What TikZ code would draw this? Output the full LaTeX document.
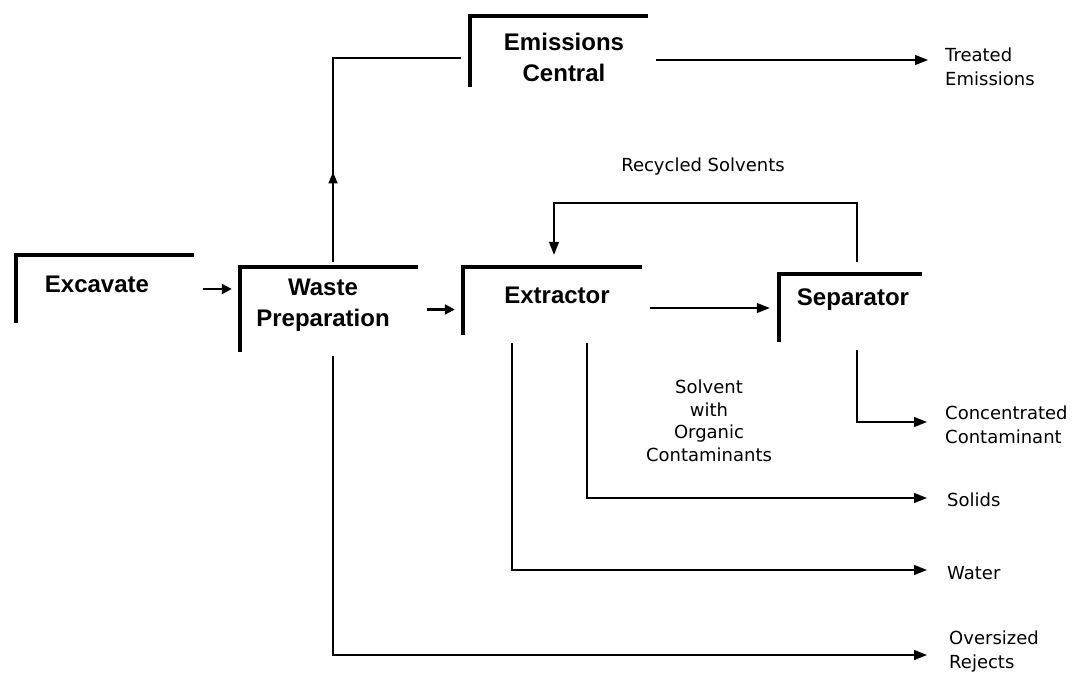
\documentclass[tikz,border=0pt]{standalone}
\usepackage{fontspec}
\setmainfont{Liberation Sans}
\newfontfamily\labfont{DejaVu Sans}
\usetikzlibrary{arrows.meta,decorations.markings}
\begin{document}
\begin{tikzpicture}[x=1pt,y=-1pt,
  boxnode/.style={inner sep=0pt,align=center,font=\fontsize{24}{31}\selectfont\bfseries},
  bracket/.style={line width=3.6pt,line join=miter},
  lab/.style={inner sep=0pt,align=left,font=\labfont\fontsize{18}{24}\selectfont},
  labc/.style={inner sep=0pt,align=center,font=\labfont\fontsize{18}{22.5}\selectfont},
  arr/.style={line width=1.3pt,-{Triangle[length=13pt,width=10pt]}},
  sarr/.style={line width=2.2pt,-{Triangle[length=10pt,width=10pt]}},
  conn/.style={line width=1.3pt}
]
\useasboundingbox (0,0) rectangle (1075,673);
% boxes
\node[boxnode,minimum width=178pt,minimum height=68pt] (ex) at (105,289) {};
\node[boxnode] (extext) at (97,284) {Excavate};
\node[boxnode,minimum width=178pt,minimum height=85pt] (wp) at (329,309.5) {};
\node[boxnode] (wptext) at (323,305.5) {Waste\\Preparation};
\node[boxnode,minimum width=179pt,minimum height=68pt] (et) at (552.5,301) {};
\node[boxnode] (ettext) at (557,295) {Extractor};
\node[boxnode,minimum width=143pt,minimum height=68pt] (sp) at (850.5,308) {};
\node[boxnode] (sptext) at (853,300) {Separator};
\node[boxnode,minimum width=178pt,minimum height=71pt] (em) at (559,51.5) {};
\node[boxnode] (emtext) at (564,57.5) {Emissions\\Central};
\foreach \n in {ex,wp,et,sp,em}{\draw[bracket] (\n.south west) |- (\n.north east);}
% labels
\node[lab,anchor=west] (te) at (945,66.5) {Treated\\Emissions};
\node[lab,anchor=west] (cc) at (945,425) {Concentrated\\Contaminant};
\node[lab,anchor=west] (so) at (947,500) {Solids};
\node[lab,anchor=west] (wa) at (947,573) {Water};
\node[lab,anchor=west] (ov) at (949,652) {Oversized\\Rejects};
\node[lab,anchor=center] (rs) at (703,167) {Recycled Solvents};
\node[labc] (sw) at (709,421) {Solvent\\with\\Organic\\Contaminants};
% connectors
\draw[sarr] ([xshift=9pt]ex.east) -- ([xshift=-8pt]ex.east -| wp.west);
\draw[sarr] ([xshift=9pt]wp.east) -- ([xshift=-8pt]wp.east -| et.west);
\draw[arr] ([xshift=8pt]sp.west -| et.east) -- ([xshift=-9pt]sp.west);
\coordinate (rstop) at (700,203);
\draw[arr] ([xshift=6.5pt,yshift=12pt]sp.north) |- (rstop) -| ([xshift=1.5pt,yshift=12pt]et.north);
\coordinate (emin) at ([xshift=-9pt,yshift=-6.5pt]em.west);
\draw[conn,decoration={markings,mark=at position 0.27 with {\arrow{Triangle[length=11pt,width=9pt]}}},postaction={decorate}]
  ([xshift=4pt,yshift=5pt]wp.north) |- (emin);
\coordinate (emout) at ([xshift=8pt,yshift=-8.5pt]em.east);
\draw[arr,shorten >=17pt] (emout) -- (emout -| te.west);
\draw[arr,shorten >=18pt] ([xshift=6.5pt,yshift=-8pt]sp.south) |- ([yshift=3pt]cc.west);
\draw[arr,shorten >=20pt] ([xshift=34.5pt,yshift=-8pt]et.south) |- ([yshift=2pt]so.west);
\draw[arr,shorten >=20pt] ([xshift=-40.5pt,yshift=-8pt]et.south) |- ([yshift=3pt]wa.west);
\draw[arr,shorten >=22pt] ([xshift=4pt,yshift=-4pt]wp.south) |- ([yshift=-3pt]ov.west);
\end{tikzpicture}
\end{document}
